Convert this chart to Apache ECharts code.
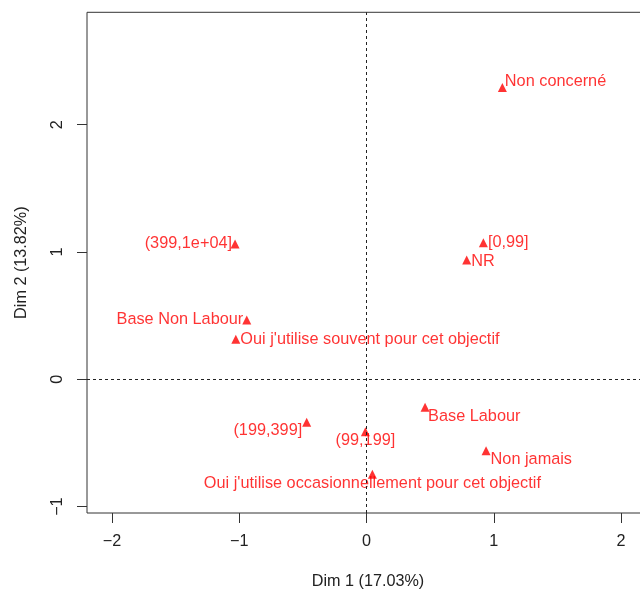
<!DOCTYPE html>
<html>
<head>
<meta charset="utf-8">
<script src="https://cdn.jsdelivr.net/npm/echarts@6/dist/echarts.min.js"></script>
<style>
html,body{margin:0;padding:0;background:#fff;}
#chart{width:640px;height:589px;}
</style>
</head>
<body>
<div id="chart"></div>
<script>
// Category labels (MCA modalities)
var categories = [
  "Non concerné",
  "[0,99]",
  "NR",
  "(399,1e+04]",
  "Base Non Labour",
  "Oui j'utilise souvent pour cet objectif",
  "Base Labour",
  "(199,399]",
  "(99,199]",
  "Non jamais",
  "Oui j'utilise occasionnellement pour cet objectif"
];
// Coordinates on Dim 1 and Dim 2
var dim1 = [1.067, 0.918, 0.787, -1.033, -0.941, -1.027, 0.460, -0.470, -0.009, 0.939, 0.046];
var dim2 = [2.292, 1.073, 0.937, 1.063, 0.466, 0.314, -0.220, -0.338, -0.412, -0.561, -0.746];
// Tick labels
var xTicks = [-2, -1, 0, 1, 2];
var yTicks = [-1, 0, 1, 2];
var xTitle = "Dim 1 (17.03%)";
var yTitle = "Dim 2 (13.82%)";

// label placement (layout only): [position, dx, dy]
var labelPlacement = [
  ["right", -2, -6.5],
  ["right", 0, 0],
  ["right", 0, 1.5],
  ["left", 1.5, 0],
  ["left", 1, 0],
  ["right", 0, 0],
  ["right", -1.5, 9.4],
  ["left", 0, 8.4],
  ["bottom", 0, -3.7],
  ["right", 0, 8.6],
  ["bottom", 0, -3]
];

var FONT = "'Liberation Sans', Arial, Helvetica, sans-serif";
var RED = "#ff0000";

var pts = categories.map(function (c, i) {
  return {
    name: c,
    value: [dim1[i], dim2[i]],
    label: {
      position: labelPlacement[i][0],
      distance: 0
    }
  };
});

function fmt(v) { return String(v).replace('-', '\u2212'); }

var chart = echarts.init(document.getElementById('chart'), null, {renderer: 'canvas'});
chart.setOption({
  animation: false,
  backgroundColor: '#ffffff',
  grid: {
    left: 87, top: 12.3, width: 562, height: 500.7,
    outerBoundsMode: 'none', containLabel: false,
    show: true, borderColor: '#333', borderWidth: 1, backgroundColor: 'transparent'
  },
  xAxis: {
    type: 'value', min: -2.196, max: 2.219,
    name: xTitle, nameLocation: 'middle', nameGap: 61,
    nameTextStyle: {fontFamily: FONT, fontSize: 16.2, color: '#222'},
    axisLine: {show: false, onZero: false},
    splitLine: {show: false},
    axisTick: {show: true, inside: false, length: 10, customValues: xTicks, lineStyle: {color: '#333'}},
    axisLabel: {show: true, customValues: xTicks, formatter: fmt, margin: 21, fontFamily: FONT, fontSize: 16.2, color: '#222'}
  },
  yAxis: {
    type: 'value', min: -1.050, max: 2.883,
    name: yTitle, nameLocation: 'middle', nameGap: 57, nameRotate: 90,
    nameTextStyle: {fontFamily: FONT, fontSize: 16.2, color: '#222'},
    axisLine: {show: false, onZero: false},
    splitLine: {show: false},
    axisTick: {show: true, inside: false, length: 10, customValues: yTicks, lineStyle: {color: '#333'}},
    axisLabel: {show: true, customValues: yTicks, formatter: fmt, rotate: 90, margin: 21, fontFamily: FONT, fontSize: 16.2, color: '#222'}
  },
  series: [{
    type: 'scatter',
    symbol: 'triangle',
    symbolSize: 9,
    itemStyle: {color: RED},
    label: {
      show: true,
      formatter: '{b}',
      fontFamily: FONT, fontSize: 16.3, color: RED
    },
    labelLayout: function (p) {
      return {dx: labelPlacement[p.dataIndex][1], dy: labelPlacement[p.dataIndex][2], hideOverlap: false};
    },
    data: pts,
    markLine: {
      silent: true,
      symbol: 'none',
      label: {show: false},
      lineStyle: {color: '#222', type: [3, 3], width: 1},
      data: [{xAxis: 0}, {yAxis: 0}]
    }
  }]
});
</script>
</body>
</html>
